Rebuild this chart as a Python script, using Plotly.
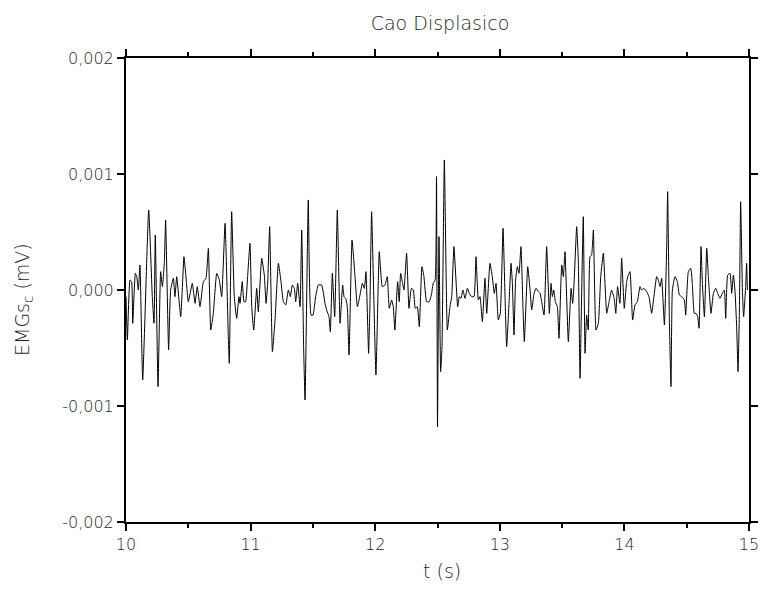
import plotly.graph_objects as go

# time (s) and EMG signal (mV)
t = [10.000, 10.011, 10.032, 10.045, 10.054, 10.075, 10.086, 10.099, 10.112, 10.134,
     10.182, 10.211, 10.225, 10.235, 10.257, 10.278, 10.292, 10.308, 10.318, 10.342,
     10.358, 10.380, 10.393, 10.407, 10.439, 10.455, 10.465, 10.479, 10.500, 10.532,
     10.554, 10.572, 10.594, 10.621, 10.642, 10.661, 10.680, 10.701, 10.728, 10.749,
     10.768, 10.795, 10.821, 10.829,
     10.848, 10.869, 10.888, 10.907, 10.915, 10.933, 10.947, 10.960, 10.976, 10.995,
     11.009, 11.025, 11.049, 11.062, 11.089, 11.110, 11.124, 11.137, 11.153, 11.175,
     11.196, 11.223, 11.244, 11.263, 11.282, 11.303, 11.319, 11.335, 11.351, 11.362,
     11.378, 11.397, 11.410, 11.426, 11.437, 11.463, 11.485, 11.501, 11.522, 11.543,
     11.570, 11.597, 11.610, 11.629, 11.640, 11.656,
     11.675, 11.696, 11.718, 11.739, 11.750, 11.763, 11.776, 11.790, 11.814, 11.838,
     11.857, 11.878, 11.897, 11.913, 11.926, 11.947, 11.958, 11.971, 11.990, 12.006,
     12.033, 12.057, 12.079, 12.097, 12.113, 12.132, 12.145, 12.158, 12.180, 12.193,
     12.204, 12.220, 12.231, 12.252, 12.271, 12.290, 12.306, 12.322, 12.338, 12.354,
     12.375, 12.391, 12.413, 12.434, 12.453, 12.465, 12.481, 12.492, 12.500, 12.512,
     12.525, 12.536, 12.555, 12.579, 12.600, 12.614, 12.632, 12.662, 12.675, 12.688,
     12.704, 12.721, 12.740, 12.755, 12.774, 12.793, 12.809, 12.828, 12.841, 12.860,
     12.881, 12.895, 12.921, 12.940, 12.956, 12.970, 12.988, 13.004, 13.026, 13.042,
     13.055, 13.074, 13.090, 13.101, 13.114, 13.127, 13.141, 13.154, 13.170, 13.186,
     13.197, 13.224, 13.243, 13.256, 13.275, 13.291, 13.310, 13.323, 13.336, 13.355,
     13.376, 13.398, 13.411, 13.422, 13.433, 13.446, 13.462, 13.475, 13.497, 13.510,
     13.523, 13.550, 13.572, 13.585, 13.596, 13.617, 13.630, 13.644, 13.657, 13.670,
     13.684, 13.697, 13.710, 13.724, 13.737, 13.751, 13.772, 13.791, 13.810, 13.831,
     13.858, 13.877, 13.897, 13.918, 13.931, 13.945, 13.964, 13.978, 13.999, 14.018,
     14.031, 14.045, 14.066, 14.085, 14.104, 14.125, 14.138, 14.157, 14.179, 14.197,
     14.219, 14.240, 14.259, 14.272, 14.286, 14.299, 14.321, 14.339, 14.347, 14.361,
     14.374, 14.385, 14.406, 14.425, 14.441, 14.460, 14.481, 14.492, 14.513, 14.532,
     14.545, 14.561, 14.575, 14.588, 14.599, 14.615, 14.626, 14.642, 14.661, 14.674,
     14.695, 14.714, 14.733, 14.749, 14.767, 14.786, 14.802, 14.813, 14.829, 14.848,
     14.861, 14.875, 14.888, 14.901, 14.912, 14.923, 14.933, 14.947, 14.957, 14.973,
     14.981, 14.987]

emg = [-0.000057, -0.000431, 0.000086, 0.000072, -0.000287, 0.000144, 0.000115, 0.000000, 0.000216, -0.000776,
       0.000690, -0.000057, -0.000287, 0.000474, -0.000833, 0.000158, 0.000029, 0.000244, 0.000603, -0.000517,
       0.000000, 0.000101, -0.000057, 0.000115, -0.000230, 0.000086, 0.000287, 0.000144, -0.000101, 0.000057,
       -0.000115, 0.000029, -0.000144, 0.000072, 0.000101, 0.000359, -0.000345, -0.000201, 0.000144, 0.000086,
       -0.000057, 0.000575, -0.000402, -0.000632,
       0.000675, -0.000057, -0.000244, -0.000057, -0.000115, 0.000072, -0.000101, -0.000101, 0.000115, 0.000402,
       -0.000144, -0.000345, 0.000014, -0.000187, 0.000273, 0.000129, -0.000115, 0.000057, 0.000546, -0.000532,
       -0.000259, 0.000230, 0.000072, -0.000101, -0.000129, 0.000000, -0.000057, 0.000043, 0.000014, -0.000101,
       0.000057, -0.000144, 0.000517, -0.000517, -0.000948, 0.000776, -0.000216, -0.000216, -0.000057, 0.000043,
       0.000043, -0.000115, -0.000172, -0.000230, -0.000359, 0.000144,
       -0.000230, 0.000690, -0.000287, 0.000043, -0.000057, -0.000072, -0.000144, -0.000560, 0.000431, 0.000115,
       -0.000144, -0.000043, 0.000057, 0.000014, 0.000158, -0.000546, -0.000115, 0.000675, -0.000115, -0.000733,
       0.000330, 0.000029, 0.000043, 0.000115, -0.000158, -0.000086, -0.000144, -0.000345, 0.000072, -0.000101,
       0.000144, 0.000057, 0.000000, 0.000316, -0.000158, 0.000014, 0.000000, -0.000158, -0.000144, -0.000316,
       0.000201, 0.000115, -0.000101, -0.000101, -0.000029, 0.000057, 0.000086, 0.000977, -0.001178, 0.000460,
       -0.000704, -0.000489, 0.001121, -0.000345, -0.000144, -0.000057, 0.000374, -0.000144, -0.000057, -0.000072,
       0.000000, -0.000072, 0.000014, -0.000029, -0.000057, -0.000057, 0.000287, -0.000086, -0.000057, -0.000273,
       0.000101, -0.000201, 0.000230, 0.000115, -0.000029, 0.000057, -0.000259, -0.000201, 0.000532, -0.000057,
       -0.000489, -0.000115, 0.000230, 0.000057, -0.000388, 0.000086, 0.000201, 0.000144, 0.000374, -0.000158,
       -0.000445, 0.000201, 0.000000, -0.000172, -0.000029, 0.000014, -0.000014, -0.000029, -0.000101, -0.000216,
       0.000374, -0.000201, 0.000057, -0.000057, 0.000000, -0.000101, -0.000144, -0.000417, 0.000216, 0.000115,
       0.000330, -0.000445, 0.000014, -0.000115, 0.000057, 0.000546, 0.000259, -0.000761, -0.000029, 0.000632,
       -0.000546, -0.000216, -0.000345, 0.000287, 0.000302, 0.000517, -0.000345, -0.000287, 0.000115, 0.000316,
       -0.000201, -0.000101, 0.000000, -0.000072, -0.000201, 0.000029, -0.000115, 0.000273, -0.000158, 0.000072,
       0.000129, 0.000158, -0.000259, -0.000129, -0.000101, 0.000029, 0.000000, 0.000014, -0.000014, -0.000057,
       -0.000201, -0.000029, 0.000115, 0.000086, 0.000029, 0.000101, -0.000302, 0.000345, 0.000848, -0.000259,
       -0.000833, 0.000000, 0.000115, 0.000072, -0.000043, -0.000057, -0.000086, -0.000216, 0.000158, 0.000187,
       0.000057, -0.000201, -0.000201, -0.000230, -0.000330, 0.000374, 0.000057, -0.000230, 0.000359, 0.000115,
       -0.000201, -0.000029, 0.000014, -0.000029, -0.000072, -0.000029, 0.000000, -0.000244, 0.000129, 0.000144,
       -0.000029, 0.000129, -0.000014, -0.000316, -0.000704, -0.000172, 0.000761, 0.000000, -0.000230, 0.000029,
       0.000230, 0.000000]

x_tick_vals = [10, 11, 12, 13, 14, 15]
x_tick_text = ["10", "11", "12", "13", "14", "15"]
x_minor_vals = [10.5, 11.5, 12.5, 13.5, 14.5]
y_tick_vals = [-0.002, -0.001, 0.0, 0.001, 0.002]
y_tick_text = ["-0,002", "-0,001", "0,000", "0,001", "0,002"]

FONT = "'DejaVu Sans', Lato, sans-serif"
TXT = "#1e1e1e"
W, H = 763, 592
L, R, T, B = 126, 14, 58, 70
PW, PH = W - L - R, H - T - B

fig = go.Figure()
fig.add_trace(go.Scatter(x=t, y=emg, mode="lines",
                         line=dict(color="black", width=1, shape="spline", smoothing=0.4),
                         showlegend=False, hoverinfo="skip"))

fig.update_layout(
    width=W, height=H,
    margin=dict(l=L, r=R, t=T, b=B, autoexpand=False),
    paper_bgcolor="white", plot_bgcolor="white",
    font=dict(family=FONT, color=TXT, size=16),
    title=dict(text="Cao Displasico", x=440 / W, xanchor="center",
               y=1 - 23 / H, yanchor="middle",
               font=dict(family=FONT, size=19, color=TXT, weight=300)),
    separators=",.",
    annotations=[
        dict(text="EMGs<sub>c</sub> (mV)", textangle=-90, xref="paper", yref="paper",
             x=(23 - L) / PW, y=(H - B - 300) / PH, xanchor="center", yanchor="middle",
             showarrow=False, font=dict(family=FONT, size=19, color=TXT, weight=300)),
        dict(text="t (s)", xref="paper", yref="paper",
             x=(442 - L) / PW, y=-(571 - (H - B)) / PH, xanchor="center", yanchor="middle",
             showarrow=False, font=dict(family=FONT, size=19, color=TXT, weight=300)),
    ],
)

fig.update_xaxes(
    range=[10, 15], tickvals=x_tick_vals, ticktext=x_tick_text,
    showgrid=False, zeroline=False,
    showline=True, linecolor="black", linewidth=2, mirror="ticks",
    ticks="outside", ticklen=7, tickwidth=2, tickcolor="black",
    minor=dict(tickvals=x_minor_vals, ticks="outside",
               ticklen=4, tickwidth=1.5, tickcolor="black", showgrid=False),
    tickfont=dict(family=FONT, size=16, color=TXT, weight=300),
)
fig.update_yaxes(
    range=[-0.002, 0.002], tickvals=y_tick_vals, ticktext=y_tick_text,
    showgrid=False, zeroline=False,
    showline=True, linecolor="black", linewidth=2, mirror="ticks",
    ticks="outside", ticklen=7, tickwidth=2, tickcolor="black",
    tickfont=dict(family=FONT, size=16, color=TXT, weight=300),
)

fig.write_html("out.html", config={"displayModeBar": False},
               post_script="document.body.style.margin='0';")
